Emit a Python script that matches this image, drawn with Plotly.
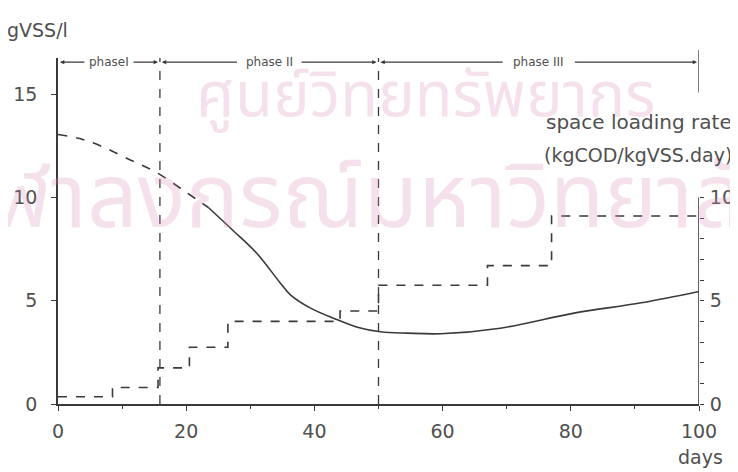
import plotly.graph_objects as go

# ---- data ----
vss_est_days = [0, 3.4, 6.6, 10.7, 15.4, 20, 23.5]
vss_est = [13.05, 12.85, 12.5, 11.9, 11.2, 10.25, 9.5]
vss_days = [23.5, 27.3, 31, 34.7, 36.3, 39.4, 43, 46.7, 50.3, 54.5, 59.7, 69, 80.5, 91, 100]
vss = [9.5, 8.4, 7.3, 5.85, 5.27, 4.64, 4.15, 3.72, 3.5, 3.43, 3.4, 3.67, 4.4, 4.9, 5.45]

load_days = [0, 8.5, 15.6, 20.5, 26.5, 44, 50, 67, 77, 100]
load_rate = [0.35, 0.8, 1.75, 2.75, 4.0, 4.5, 5.75, 6.7, 9.1, 9.1]

phase_bounds = [0, 15.9, 50, 100]
phase_labels = ["phaseI", "phase II", "phase III"]

x_ticks = [0, 20, 40, 60, 80, 100]
y_ticks = [0, 5, 10, 15]
y2_ticks = list(range(0, 11))
y2_labels = ["0", "", "", "", "", "5", "", "", "", "", "10"]

INK = "#3a3a3a"
TXT = "#505050"
FONT = "DejaVu Sans"
YMAX = 16.75
WM = "rgba(215,140,180,0.26)"
WMFONT = "Noto Sans Thai, DejaVu Sans, sans-serif"

fig = go.Figure()
fig.add_trace(go.Scatter(x=vss_est_days, y=vss_est, mode="lines",
                         line=dict(color=INK, width=1.6, dash="dash", shape="spline"),
                         showlegend=False))
fig.add_trace(go.Scatter(x=vss_days, y=vss, mode="lines",
                         line=dict(color=INK, width=1.6, shape="spline"),
                         showlegend=False))
fig.add_trace(go.Scatter(x=load_days, y=load_rate, mode="lines", yaxis="y2",
                         line=dict(color=INK, width=1.6, dash="dash", shape="hv"),
                         showlegend=False))

shapes = []
for b in phase_bounds[1:-1]:
    shapes.append(dict(type="line", xref="x", yref="paper", x0=b, x1=b, y0=0, y1=1.0,
                       line=dict(color=INK, width=1.3, dash="dash")))
shapes.append(dict(type="line", xref="x", yref="y2", x0=100, x1=100, y0=0, y1=10,
                   line=dict(color=INK, width=1.6)))
shapes.append(dict(type="line", xref="x", yref="y2", x0=100, x1=101.2, y0=10, y1=10,
                   line=dict(color=INK, width=1.3)))
shapes.append(dict(type="line", xref="x", yref="paper", x0=100, x1=100, y0=0.9, y1=1.023,
                   line=dict(color=INK, width=1.3)))

annotations = [
    dict(x=0.573, y=1.03, xref="paper", yref="paper", text="ศูนย์วิทยทรัพยากร",
         showarrow=False, font=dict(family=WMFONT, size=62, color=WM)),
    dict(x=0.487, y=0.59, xref="paper", yref="paper", text="จุฬาลงกรณ์มหาวิทยาลัย",
         showarrow=False, font=dict(family=WMFONT, size=89, color=WM)),
]
PY = 16.55
for i, lab in enumerate(phase_labels):
    a, b = phase_bounds[i], phase_bounds[i + 1]
    mid = (a + b) / 2
    half = len(lab) * 0.6
    annotations.append(dict(x=mid, y=PY, xref="x", yref="y", text=lab, showarrow=False,
                            font=dict(family=FONT, size=12, color=TXT)))
    annotations.append(dict(x=a + 0.3, y=PY, ax=mid - half, ay=PY, xref="x", yref="y",
                            axref="x", ayref="y", text="", showarrow=True,
                            arrowhead=2, arrowsize=0.8, arrowwidth=1.1, arrowcolor=INK))
    annotations.append(dict(x=b - 0.3, y=PY, ax=mid + half, ay=PY, xref="x", yref="y",
                            axref="x", ayref="y", text="", showarrow=True,
                            arrowhead=2, arrowsize=0.8, arrowwidth=1.1, arrowcolor=INK))

annotations += [
    dict(x=-0.083, y=1.08, xref="paper", yref="paper", text="gVSS/l", showarrow=False,
         xanchor="left", yanchor="middle", font=dict(family=FONT, size=19, color=TXT)),
    dict(x=1.055, y=0.815, xref="paper", yref="paper", text="space loading rate",
         showarrow=False, xanchor="right", yanchor="middle",
         font=dict(family=FONT, size=20, color=TXT)),
    dict(x=1.055, y=0.72, xref="paper", yref="paper", text="(kgCOD/kgVSS.day)",
         showarrow=False, xanchor="right", yanchor="middle",
         font=dict(family=FONT, size=19, color=TXT)),
    dict(x=1.04, y=-0.153, xref="paper", yref="paper", text="days",
         showarrow=False, xanchor="right", yanchor="middle",
         font=dict(family=FONT, size=19, color=TXT)),
]

# page body has an 8px margin: figure is 730x464 placed at (8, 8)
fig.update_layout(
    width=730, height=464,
    margin=dict(l=50, r=39, t=50, b=68, autoexpand=False),
    paper_bgcolor="white", plot_bgcolor="white",
    font=dict(family=FONT, color=TXT, size=19),
    xaxis=dict(range=[0, 100], tickvals=x_ticks, showgrid=False, zeroline=False,
               automargin=False,
               showline=True, linecolor=INK, linewidth=1.6, ticks="outside",
               ticklen=5, tickcolor=INK, ticklabelstandoff=4,
               minor=dict(dtick=10, ticks="outside", ticklen=3, tickcolor=INK),
               tickfont=dict(family=FONT, size=19, color=TXT)),
    yaxis=dict(range=[0, YMAX], tickvals=y_ticks, showgrid=False, zeroline=False,
               automargin=False,
               showline=True, linecolor=INK, linewidth=1.6, ticks="outside",
               ticklen=5, tickcolor=INK, ticklabelstandoff=10,
               tickfont=dict(family=FONT, size=19, color=TXT)),
    yaxis2=dict(range=[0, YMAX], overlaying="y", side="right", tickvals=y2_ticks,
                automargin=False,
                ticktext=y2_labels, showgrid=False, zeroline=False, showline=False,
                ticks="outside", ticklen=4, tickcolor=INK, ticklabelstandoff=2,
                tickfont=dict(family=FONT, size=19, color=TXT)),
    shapes=shapes, annotations=annotations,
)

fig.write_html("out.html")
